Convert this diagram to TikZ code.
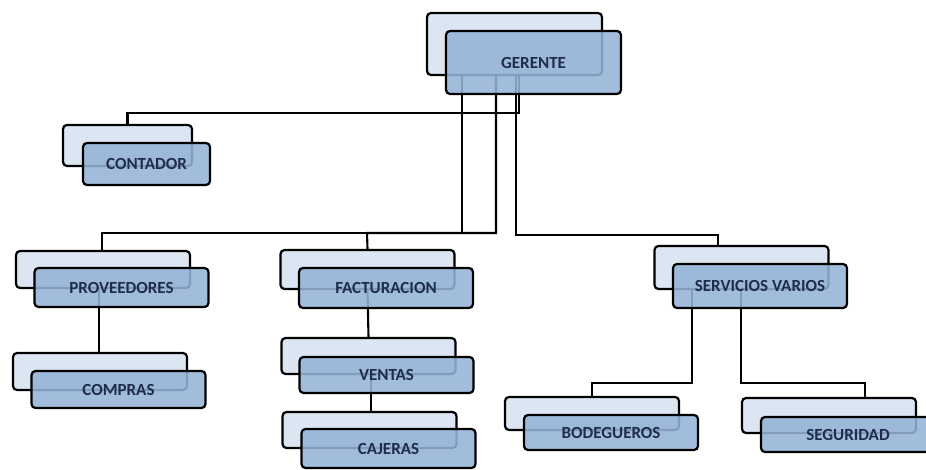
\documentclass[tikz,border=0pt]{standalone}
\usepackage{fontspec}
\setmainfont{Carlito}
\usepackage{tikz}
\usetikzlibrary{positioning}
\definecolor{fondo}{HTML}{DCE6F2}
\definecolor{frente}{HTML}{95B3D7}
\definecolor{letra}{HTML}{1F2D4A}

\begin{document}
\begin{tikzpicture}[x=1pt,y=-1pt,
back/.style={draw=black,line width=2.2pt,fill=fondo,rounded corners=4pt,minimum width=174pt,minimum height=37pt,inner sep=0pt},
front/.style={draw=black,line width=2.2pt,fill=frente,fill opacity=.88,text opacity=1,rounded corners=4pt,minimum width=174pt,minimum height=38pt,inner sep=0pt,text=letra,font=\bfseries\fontsize{17}{19}\selectfont},
link/.style={line width=2.1pt,black}]
\useasboundingbox (0,0) rectangle (926,470);
% cajas de atras
\node[back,minimum height=62pt,minimum width=175pt] (bger) at (514.5,44) {};
\node[back,minimum width=129pt,minimum height=41pt] (bcon) at (127.5,145.5) {};
\node[back] (bpro) at (103,269.5) {};
\node[back] (bcom) at (100,371.5) {};
\node[back,minimum height=39pt] (bfac) at (367.5,269.5) {};
\node[back,minimum height=36pt] (bven) at (368.5,356) {};
\node[back,minimum height=36pt] (bcaj) at (369.5,430) {};
\node[back,minimum height=43pt] (bser) at (741.5,267.5) {};
\node[back,minimum height=33pt] (bbod) at (592,413.5) {};
\node[back,minimum height=35pt] (bseg) at (829,415.5) {};
% lineas
\draw[link] (bger.south -| 462,0) |- (102,233) -- (102,233 |- bpro.north);
\draw[link] (bger.south -| 496,0) |- (367,233) -- (bfac.north);
\draw[link] (bger.south -| 516,0) |- (718,235) -- (718,235 |- bser.north);
\draw[link] (bger.south -| 519,0) |- (127.5,113) -- (bcon.north);
\draw[link] (bpro.south -| 99,0) -- (bcom.north -| 99,0);
\draw[link] (bfac.south) -- (bven.north);
\draw[link] (bven.south -| 371,0) -- (bcaj.north -| 371,0);
\draw[link] (bser.south -| 692,0) |- (592,383) -- (bbod.north);
\draw[link] (bser.south -| 741,0) |- (865,383) -- (865,383 |- bseg.north);
% cajas de adelante
\node[front,minimum height=63pt,minimum width=175pt] (ger) at (533.5,62.5) {GERENTE};
\node[front,minimum width=127pt,minimum height=42pt] (con) at (146.5,164) {CONTADOR};
\node[front,minimum height=39pt] (pro) at (121.5,287.5) {PROVEEDORES};
\node[front,minimum height=37pt] (com) at (118.5,389.5) {COMPRAS};
\node[front,minimum height=40pt] (fac) at (386,288) {FACTURACION};
\node[front,minimum height=36pt] (ven) at (386.5,375) {VENTAS};
\node[front,minimum height=39pt] (caj) at (388.5,448.5) {CAJERAS};
\node[front,minimum height=44pt] (ser) at (760,286) {SERVICIOS VARIOS};
\node[front,minimum height=35pt] (bod) at (611,432.5) {BODEGUEROS};
\node[front,minimum height=35pt] (seg) at (848,434.5) {SEGURIDAD};
\end{tikzpicture}
\end{document}
